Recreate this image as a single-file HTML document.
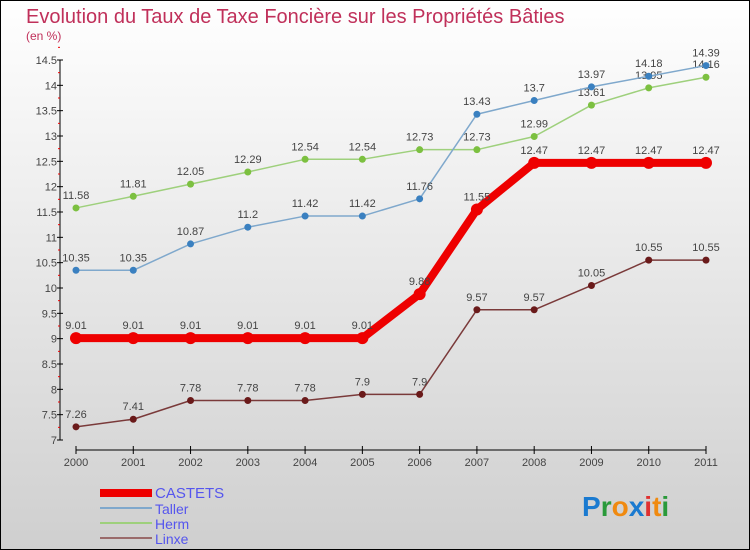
<!DOCTYPE html>
<html><head><meta charset="utf-8"><style>
body{margin:0}
svg{display:block;font-family:"Liberation Sans",sans-serif}
</style></head><body>
<svg id="c" width="750" height="550" viewBox="0 0 750 550">
<defs><linearGradient id="bg" x1="0" y1="0" x2="0" y2="1"><stop offset="0" stop-color="#ffffff"/><stop offset="1" stop-color="#cfcfcf"/></linearGradient></defs>
<rect x="0.5" y="0.5" width="749" height="549" fill="url(#bg)" stroke="#000"/>
<text x="26" y="23" font-size="20" fill="#c0305a">Evolution du Taux de Taxe Foncière sur les Propriétés Bâties</text>
<text x="26" y="40" font-size="12" fill="#c0305a">(en %)</text>
<g id="axes"></g><g id="series"></g>
<g>
<rect x="100" y="489" width="52" height="8" fill="#e00"/>
<text x="155" y="498" font-size="15" fill="#5555ee">CASTETS</text>
<line x1="100" y1="508" x2="152" y2="508" stroke="#7fa8cc" stroke-width="2"/>
<text x="155" y="514" font-size="14" fill="#5555ee">Taller</text>
<line x1="100" y1="523" x2="152" y2="523" stroke="#9ed07c" stroke-width="2"/>
<text x="155" y="529" font-size="14" fill="#5555ee">Herm</text>
<line x1="100" y1="538" x2="152" y2="538" stroke="#9a6b6b" stroke-width="2"/>
<text x="155" y="544" font-size="14" fill="#5555ee">Linxe</text>
</g>
<text x="582" y="516" font-size="28" font-weight="bold"><tspan fill="#1a7ad0">P</tspan><tspan fill="#2a9a3a">r</tspan><tspan fill="#f08a10">o</tspan><tspan fill="#1a7ad0">x</tspan><tspan fill="#e03030">i</tspan><tspan fill="#f08a10">t</tspan><tspan fill="#2a9a3a">i</tspan></text>
</svg>
<script>
const years=[2000,2001,2002,2003,2004,2005,2006,2007,2008,2009,2010,2011];
const castets=[9.01,9.01,9.01,9.01,9.01,9.01,9.88,11.55,12.47,12.47,12.47,12.47];
const taller=[10.35,10.35,10.87,11.2,11.42,11.42,11.76,13.43,13.7,13.97,14.18,14.39];
const herm=[11.58,11.81,12.05,12.29,12.54,12.54,12.73,12.73,12.99,13.61,13.95,14.16];
const linxe=[7.26,7.41,7.78,7.78,7.78,7.9,7.9,9.57,9.57,10.05,10.55,10.55];
const yTicks=[7,7.5,8,8.5,9,9.5,10,10.5,11,11.5,12,12.5,13,13.5,14,14.5];
const NS="http://www.w3.org/2000/svg";
const X=i=>76+i*(706-76)/(years.length-1);
const Y=v=>440-(v-7)*(380/7.5);
function mk(tag,attrs,parent,text){const e=document.createElementNS(NS,tag);for(const k in attrs)e.setAttribute(k,attrs[k]);if(text!==undefined)e.textContent=text;parent.appendChild(e);return e;}
const ax=document.getElementById('axes');
const yl=mk('line',{x1:60,y1:Y(14.5),x2:60,y2:Y(7),stroke:'#000','stroke-width':1},ax);


yTicks.forEach(t=>{
 mk('line',{x1:57,y1:Y(t),x2:63,y2:Y(t),stroke:'#000'},ax);
 mk('line',{x1:58,y1:Y(t+0.25),x2:60,y2:Y(t+0.25),stroke:'#e00'},ax);
 const tx=mk('text',{x:57,y:Y(t)+4,'font-size':11,fill:'#444','text-anchor':'end'},ax,String(t));
 
 
});
const xl=mk('line',{x1:76,y1:450,x2:706,y2:450,stroke:'#000','stroke-width':1},ax);


years.forEach((y,i)=>{
 mk('line',{x1:X(i),y1:446,x2:X(i),y2:454,stroke:'#000'},ax);
 const tx=mk('text',{x:X(i),y:466,'font-size':11,fill:'#444','text-anchor':'middle'},ax,String(y));
 
 
});
const sg=document.getElementById('series');
function series(name,data,color,dot,w,r){
 const g=mk('g',{},sg);
 
 
 const p=mk('polyline',{points:data.map((v,i)=>X(i)+','+Y(v)).join(' '),fill:'none',stroke:color,'stroke-width':w,'stroke-linejoin':'round'},g);
 
 
 data.forEach((v,i)=>{
  const c=mk('circle',{cx:X(i),cy:Y(v),r:r,fill:dot},g);
  
  
  const t=mk('text',{x:X(i),y:Y(v)-9,'font-size':11,fill:'#444','text-anchor':'middle'},g,String(v));
  
  
 });
}
series('linxe',linxe,'#7a3a3a','#6a1a1a',1.5,3.5);
series('herm',herm,'#9ed07c','#7cc040',1.5,3.5);
series('taller',taller,'#7fa8cc','#3a80c0',1.5,3.5);
series('castets',castets,'#ee0000','#ee0000',8,6);
</script>
</body></html>
